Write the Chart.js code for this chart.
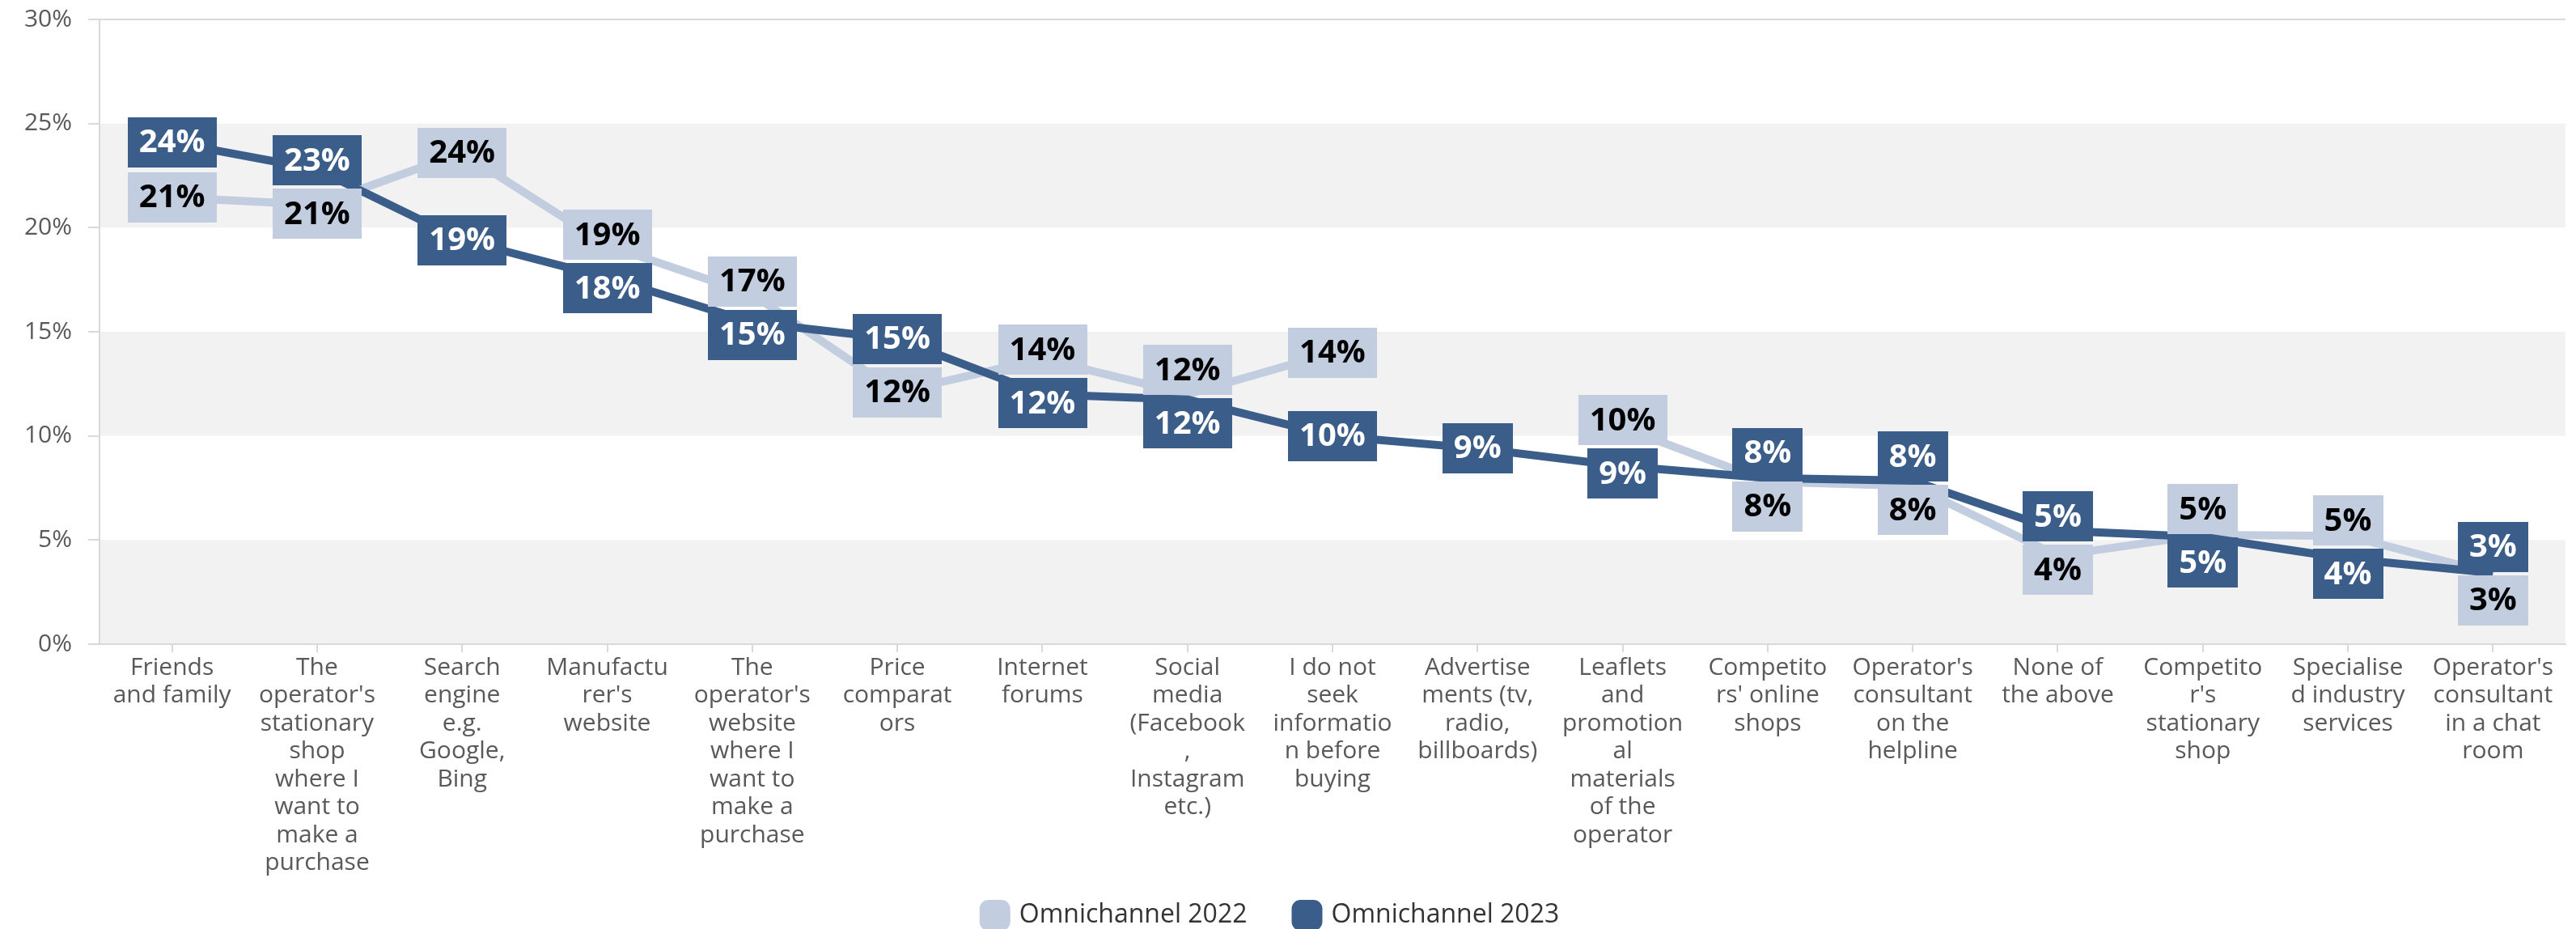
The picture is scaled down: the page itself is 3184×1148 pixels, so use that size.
<!DOCTYPE html>
<html>
<head>
<meta charset="utf-8">
<title>Omnichannel information sources</title>
<script src="https://cdn.jsdelivr.net/npm/chart.js@4.4.1/dist/chart.umd.min.js"></script>
<style>
  html, body { margin: 0; padding: 0; background: #fff; overflow: hidden; }
  #chart { display: block; }
</style>
</head>
<body>
<canvas id="chart" width="3184" height="1148"></canvas>
<script>
// ===== Data =====
let categories = [
  ["Friends", "and family"],
  ["The", "operator's", "stationary", "shop", "where I", "want to", "make a", "purchase"],
  ["Search", "engine", "e.g.", "Google,", "Bing"],
  ["Manufactu", "rer's", "website"],
  ["The", "operator's", "website", "where I", "want to", "make a", "purchase"],
  ["Price", "comparat", "ors"],
  ["Internet", "forums"],
  ["Social", "media", "(Facebook", ",", "Instagram", "etc.)"],
  ["I do not", "seek", "informatio", "n before", "buying"],
  ["Advertise", "ments (tv,", "radio,", "billboards)"],
  ["Leaflets", "and", "promotion", "al", "materials", "of the", "operator"],
  ["Competito", "rs' online", "shops"],
  ["Operator's", "consultant", "on the", "helpline"],
  ["None of", "the above"],
  ["Competito", "r's", "stationary", "shop"],
  ["Specialise", "d industry", "services"],
  ["Operator's", "consultant", "in a chat", "room"]
];

let omni2022 = [21.45, 21.1, 23.6, 19.15, 16.8, 12.1, 13.7, 12.0, 14.0, null, 10.4, 7.8, 7.6, 4.25, 5.25, 5.2, 3.38];
let omni2023 = [24.1, 22.8, 19.4, 17.6, 15.45, 14.65, 12.0, 11.75, 10.0, 9.4, 8.55, 7.98, 7.85, 5.45, 5.15, 4.1, 3.42];

let seriesNames = ["Omnichannel 2022", "Omnichannel 2023"];

// ===== Styles =====
let lightBlue = "#c2cde0";
let darkBlue = "#3b5d8a";
let bandGrey = "#f2f2f2";
let axisGrey = "#d9d9d9";
let tickText = "#595959";

let boxH = 62;
let boxGap = 4;
let boxPadX = 14;

// ===== Alternate grey bands + top border =====
let bandPlugin = {
  id: "bands",
  beforeDraw(chart) {
    let ctx = chart.ctx;
    let area = chart.chartArea;
    let y = chart.scales.y;
    ctx.save();
    ctx.fillStyle = bandGrey;
    [[0, 5], [10, 15], [20, 25]].forEach(b => {
      let top = y.getPixelForValue(b[1]);
      let bottom = y.getPixelForValue(b[0]);
      ctx.fillRect(area.left, top, area.right - area.left, bottom - top);
    });
    ctx.strokeStyle = axisGrey;
    ctx.lineWidth = 2;
    ctx.beginPath();
    ctx.moveTo(area.left, area.top);
    ctx.lineTo(area.right, area.top);
    ctx.stroke();
    ctx.restore();
  }
};

// ===== Layout tweaks =====
// long category labels run below the legend's top edge, so widen the
// x axis clip box; legend sits a little left of centre
let layoutFix = {
  id: "layoutFix",
  afterLayout(chart) {
    chart.scales.x.bottom += 40;
    chart.legend.left -= 14;
    chart.legend.right -= 14;
  }
};

// ===== Value boxes (pushed apart when they collide) =====
let boxLabelPlugin = {
  id: "boxLabels",
  afterDatasetsDraw(chart) {
    let ctx = chart.ctx;
    ctx.save();
    ctx.font = "bold 40px 'Open Sans'";
    ctx.textAlign = "center";
    ctx.textBaseline = "middle";

    categories.forEach((c, i) => {
      let items = [];
      chart.data.datasets.forEach((ds, di) => {
        let v = ds.data[i];
        if (v === null) return;
        let pt = chart.getDatasetMeta(di).data[i];
        items.push({ v: v, x: pt.x, y: pt.y, dark: di === 1 });
      });
      items.sort((a, b) => b.v - a.v);

      if (items.length === 2 && items[1].y - items[0].y < boxH + boxGap) {
        let mid = (items[0].y + items[1].y) / 2;
        items[0].y = mid - (boxH + boxGap) / 2;
        items[1].y = mid + (boxH + boxGap) / 2;
      }

      items.forEach(it => {
        let text = Math.round(it.v) + "%";
        let w = ctx.measureText(text).width + boxPadX * 2;
        ctx.fillStyle = it.dark ? darkBlue : lightBlue;
        ctx.fillRect(Math.round(it.x - w / 2), Math.round(it.y - boxH / 2), Math.round(w), boxH);
        ctx.fillStyle = it.dark ? "#ffffff" : "#000000";
        ctx.fillText(text, it.x, it.y + 1);
      });
    });
    ctx.restore();
  }
};

// ===== Chart =====
let ctx = document.getElementById("chart").getContext("2d");

new Chart(ctx, {
  type: "line",
  data: {
    labels: categories,
    datasets: [
      {
        label: seriesNames[0],
        data: omni2022,
        borderColor: lightBlue,
        backgroundColor: lightBlue,
        borderWidth: 10,
        borderJoinStyle: "round",
        pointRadius: 0,
        pointHoverRadius: 0,
        spanGaps: false,
        order: 2
      },
      {
        label: seriesNames[1],
        data: omni2023,
        borderColor: darkBlue,
        backgroundColor: darkBlue,
        borderWidth: 10,
        borderJoinStyle: "round",
        pointRadius: 0,
        pointHoverRadius: 0,
        order: 1
      }
    ]
  },
  options: {
    responsive: false,
    animation: false,
    devicePixelRatio: 1,
    layout: {
      padding: { left: 0, right: 13, top: 24, bottom: -9 }
    },
    plugins: {
      legend: {
        position: "bottom",
        labels: {
          sort: (a, b) => a.datasetIndex - b.datasetIndex,
          boxWidth: 28,
          boxHeight: 28,
          useBorderRadius: true,
          borderRadius: 6,
          padding: 60,
          color: "#333333",
          font: { family: "'Open Sans'", size: 32 }
        }
      },
      tooltip: { enabled: false }
    },
    scales: {
      x: {
        offset: true,
        afterFit(scale) { scale.height = 259; },
        border: { color: axisGrey, width: 2 },
        grid: {
          display: true,
          offset: false,
          drawOnChartArea: false,
          color: axisGrey,
          lineWidth: 2,
          tickLength: 10
        },
        ticks: {
          autoSkip: false,
          maxRotation: 0,
          padding: 2,
          color: tickText,
          font: { family: "'Open Sans'", size: 30, lineHeight: 1.15 }
        }
      },
      y: {
        min: 0,
        max: 30,
        afterFit(scale) {
          scale.width = 123;
          scale.paddingTop = 0;
        },
        border: { color: axisGrey, width: 2 },
        grid: {
          drawOnChartArea: false,
          color: axisGrey,
          lineWidth: 2,
          tickLength: 14
        },
        ticks: {
          stepSize: 5,
          padding: 20,
          color: tickText,
          font: { family: "'Open Sans'", size: 30 },
          callback: v => v + "%"
        }
      }
    }
  },
  plugins: [bandPlugin, layoutFix, boxLabelPlugin]
});
</script>
</body>
</html>
